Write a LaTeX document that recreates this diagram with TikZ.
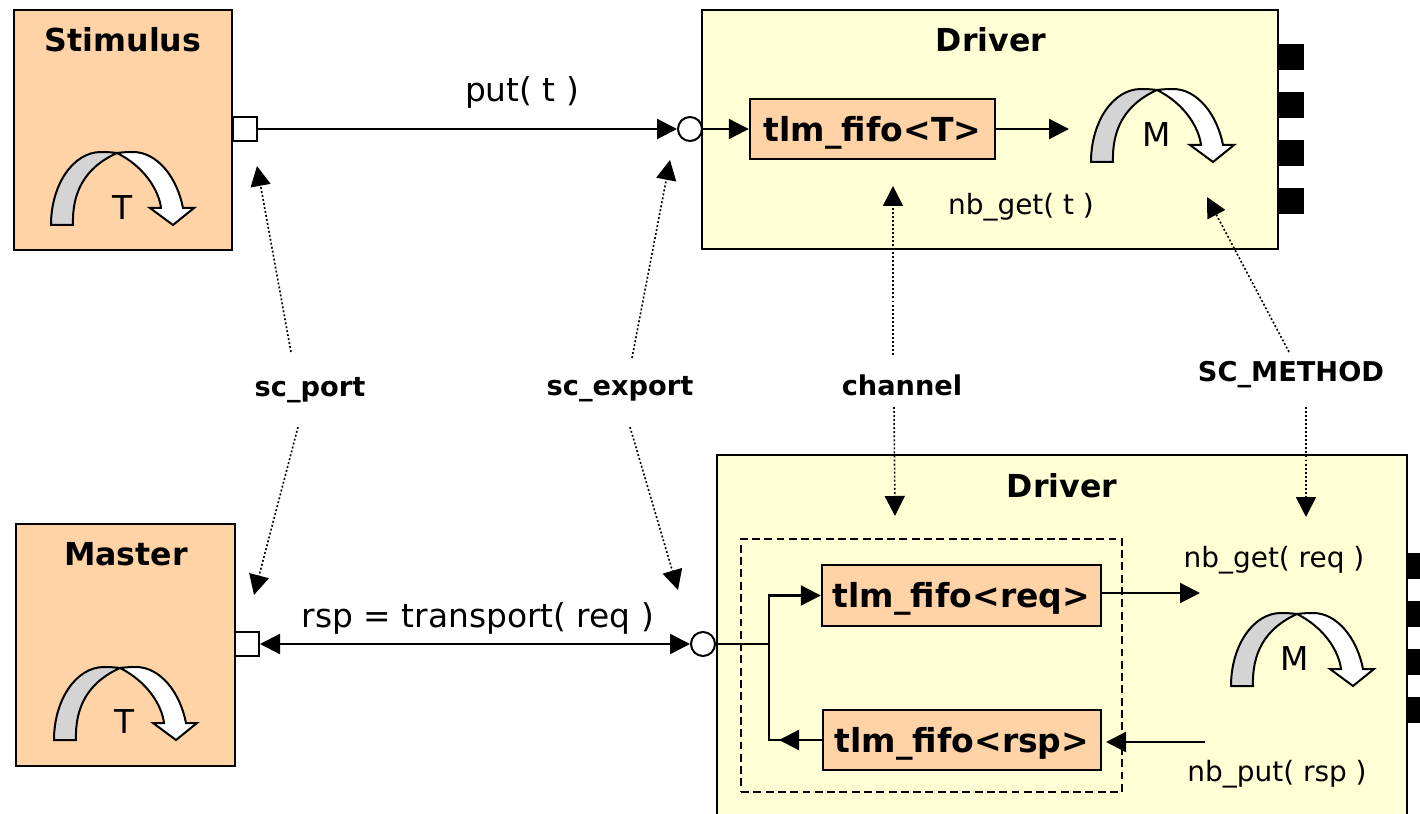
\documentclass[tikz,border=0pt]{standalone}
\usepackage{fontspec}
\setmainfont{DejaVu Sans}
\usetikzlibrary{arrows.meta}
\definecolor{peach}{HTML}{FFD3A6}
\definecolor{cream}{HTML}{FFFFD5}
\def\px{0.02cm}
\newcommand{\fifolabel}[1]{\smash{\raisebox{-7pt}{#1}}}
\tikzset{
	block/.style={draw, fill=#1, line width=2.4*\px, inner sep=0pt},
	fifobox/.style={block=peach, inner sep=0pt, font=\fontsize{18.8}{23}\selectfont\bfseries},
	portbox/.style={draw, fill=white, line width=2*\px, minimum size=24*\px, inner sep=0pt},
	exportcirc/.style={draw, circle, fill=white, line width=2*\px, minimum size=24*\px, inner sep=0pt},
	pinbox/.style={fill=black, minimum width=26*\px, minimum height=26*\px, inner sep=0pt},
	title/.style={font=\fontsize{18}{23}\selectfont\bfseries},
	tag/.style={font=\fontsize{15.5}{18}\selectfont\bfseries},
	call/.style={font=\fontsize{18.7}{22}\selectfont},
	smallcall/.style={font=\fontsize{15.9}{18}\selectfont},
	conn/.style={line width=2.2*\px, -{Triangle[length=20*\px,width=20*\px]}},
	plain/.style={line width=2.2*\px},
	hint/.style={dash pattern=on 1.1pt off 1.2pt, line width=1.6*\px, -{Triangle[length=20*\px,width=20*\px]}},
	pics/procarrow/.style={code={
		\draw[line width=2*\px, fill=black!17] (-66,72) -- (-44,72) .. controls (-45,40) and (-33,15) .. (0,0) .. controls (-8,-1) and (-12,-1) .. (-16,-1) .. controls (-44,-1) and (-66,32) .. cycle;
		\draw[line width=2*\px, fill=white] (0,0) .. controls (8,-1) and (12,-1) .. (16,-1) .. controls (40,-1) and (60,24) .. (66,55) -- (77,55) -- (56,72) -- (33,55) -- (44,55) .. controls (42,38) and (28,14) .. cycle;
	}}
}

\begin{document}
\begin{tikzpicture}[x=\px, y=-\px]
	\useasboundingbox (0,0) rectangle (1420,814);

	% Stimulus and Master
	\node[block=peach, minimum width=218*\px, minimum height=240*\px] (stimulus) at (123,130) {};
	\node[title] (stimulustitle) at (123,40) {Stimulus};
	\pic at (117,153) {procarrow};
	\node[call] (stimulusproc) at (123,208) {T};
	\node[block=peach, minimum width=219*\px, minimum height=242*\px] (master) at (125.5,645) {};
	\node[title] (mastertitle) at (126,554) {Master};
	\pic at (120,668) {procarrow};
	\node[call] (masterproc) at (125,722) {T};

	% Driver boxes
	\node[block=cream, minimum width=576*\px, minimum height=239*\px] (drivertop) at (990,129.5) {};
	\node[title] (drivertoptitle) at (991,40) {Driver};
	\node[block=cream, minimum width=690*\px, minimum height=375*\px] (driverbot) at (1062,642.5) {};
	\node[title] (driverbottitle) at (1062,486) {Driver};
	\foreach \y in {57,105,153,201}
		\node[pinbox] (pintop\y) at (1291,\y) {};
	\foreach \y in {565.5,614,661.5,710}
		\node[pinbox] (pinbot\y) at (1420,\y) {};
	\pic at (1157,90) {procarrow};
	\node[call] (drivertopproc) at (1157,135) {M};
	\pic at (1297,614) {procarrow};
	\node[call] (driverbotproc) at (1295,659) {M};

	% Channel outline
	\node[draw, dash pattern=on 4.5pt off 2.5pt, line width=2*\px, minimum width=381*\px, minimum height=253*\px] (channelbox) at (931.5,665.5) {};

	% Fifos
	\node[fifobox, minimum width=245*\px, minimum height=60*\px] (fifot) at (872.5,129) {\fifolabel{tlm\_fifo<T>}};
	\node[fifobox, minimum width=279*\px, minimum height=61*\px] (fiforeq) at (961.5,595.5) {\fifolabel{tlm\_fifo<req>}};
	\node[fifobox, minimum width=278*\px, minimum height=60*\px] (fiforsp) at (962,740) {\fifolabel{tlm\_fifo<rsp>}};

	% Ports and exports
	\node[portbox] (stimulusport) at (244.5,129) {};
	\node[portbox] (masterport) at (247,644) {};
	\node[exportcirc] (exporttop) at (690,129) {};
	\node[exportcirc] (exportbot) at (703,644) {};

	% Calls
	\node[call] (putcall) at (522,92) {put( t )};
	\node[call] (transportcall) at (478,618) {rsp = transport( req )};
	\node[smallcall] (getcallt) at (1021,207) {nb\_get( t )};
	\node[smallcall] (getcallreq) at (1274,560) {nb\_get( req )};
	\node[smallcall] (putcallrsp) at (1277,774) {nb\_put( rsp )};

	% Tags
	\node[tag] (porttag) at (310,390) {sc\_port};
	\node[tag] (exporttag) at (620,389) {sc\_export};
	\node[tag] (channeltag) at (902,385) {channel};
	\node[tag] (methodtag) at (1291,375) {SC\_METHOD};

	% Free ends
	\coordinate (fifotout) at (1069,129);
	\coordinate (reqout) at (1200,593);
	\coordinate (rspin) at (1205,742);
	\coordinate (rspfifoin) at (1106,742);
	\coordinate (rsptip) at (779,740);
	\coordinate (junction) at (769,644);

	% Transaction connectors
	\draw[conn] (stimulusport) -- (exporttop);
	\draw[conn] (exporttop) -- (fifot);
	\draw[conn] (fifot) -- (fifotout);
	\draw[conn, {Triangle[length=20*\px,width=20*\px]}-{Triangle[length=20*\px,width=20*\px]}] (masterport) -- (exportbot);
	\draw[plain] (exportbot) -- (junction);
	\draw[conn] (junction) |- (fiforeq.west);
	\draw[plain] (junction) |- (fiforsp.west);
	\draw[conn] (fiforsp.west) -- (rsptip);
	\draw[conn] (fiforeq.east |- reqout) -- (reqout);
	\draw[conn] (rspin) -- (rspfifoin);

	% Dotted pointers
	\coordinate (porttip) at (257,166);
	\coordinate (portdown) at (254,595);
	\coordinate (exporttip) at (670,160);
	\coordinate (exportdown) at (678,590);
	\coordinate (channeltip) at (893,186);
	\coordinate (channeldown) at (895,516);
	\coordinate (methodtip) at (1207,197);
	\coordinate (methoddown) at (1306,517);
	\draw[hint] ([shift={(-19,-38)}]porttag.center) -- (porttip);
	\draw[hint] ([shift={(-12,37)}]porttag.center) -- (portdown);
	\draw[hint] ([shift={(12,-31)}]exporttag.center) -- (exporttip);
	\draw[hint] ([shift={(10,38)}]exporttag.center) -- (exportdown);
	\draw[hint] ([shift={(-9,-30)}]channeltag.center) -- (channeltip);
	\draw[hint] ([shift={(-8,22)}]channeltag.center) -- (channeldown);
	\draw[hint] ([shift={(-2,-23)}]methodtag.center) -- (methodtip);
	\draw[hint] ([shift={(15,32)}]methodtag.center) -- (methoddown);
\end{tikzpicture}
\end{document}
